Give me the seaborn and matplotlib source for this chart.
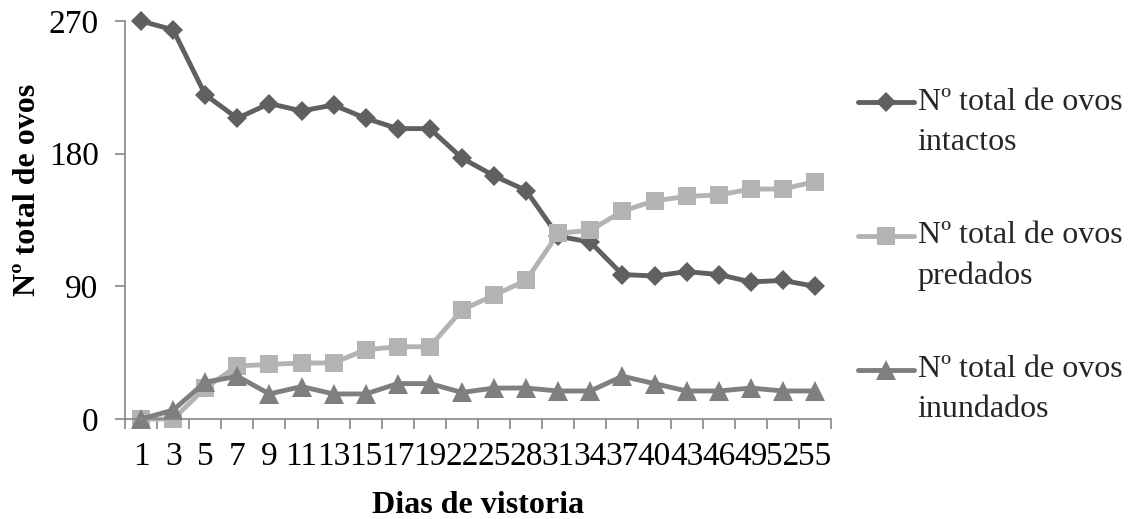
import matplotlib
matplotlib.use("Agg")
import matplotlib.pyplot as plt
import seaborn as sns
import pandas as pd
import numpy as np
from matplotlib.ticker import FixedLocator, NullFormatter

days = ["1", "3", "5", "7", "9", "11", "13", "15", "17", "19", "22", "25",
        "28", "31", "34", "37", "40", "43", "46", "49", "52", "55"]
intactos = [270, 264, 220, 204, 214, 209, 213, 204, 197, 197, 177, 165,
            155, 124, 120, 98, 97, 100, 98, 93, 94, 90]
predados = [0, 0, 21, 36, 37, 38, 38, 47, 49, 49, 74, 84,
            94, 126, 128, 141, 148, 151, 152, 156, 156, 161]
inundados = [0, 6, 25, 29, 17, 22, 17, 17, 24, 24, 18, 21,
             21, 19, 19, 29, 24, 19, 19, 21, 19, 19]
series_names = ["Nº total de ovos intactos", "Nº total de ovos predados",
                "Nº total de ovos inundados"]
legend_labels = [" \nNº total de ovos\nintactos",
                 " \nNº total de ovos\npredados",
                 " \nNº total de ovos\ninundados"]

sns.set_theme(style="white")
plt.rcParams["font.family"] = ["Liberation Serif", "DejaVu Serif"]

pos = np.arange(len(days))
df = pd.concat([
    pd.DataFrame({"pos": pos, "valor": vals, "serie": name})
    for name, vals in zip(series_names, [intactos, predados, inundados])
])

colors = ["#606060", "#b3b3b3", "#7f7f7f"]
palette = dict(zip(series_names, colors))
markers = dict(zip(series_names, ["D", "s", "^"]))
msizes = {series_names[0]: 10.5, series_names[1]: 13, series_names[2]: 14}

fig = plt.figure(figsize=(11.33, 5.19), dpi=100)
ax = fig.add_axes([125 / 1133, 100 / 519, 706 / 1133, 398 / 519])

sns.lineplot(data=df, x="pos", y="valor", hue="serie", style="serie",
             palette=palette, markers=markers, dashes=False, legend=False,
             linewidth=3.5, markeredgewidth=0, ax=ax)
for line, name in zip(ax.lines, series_names):
    line.set_markersize(msizes[name])
    line.set_clip_on(False)

ax.set_xlim(-0.5, len(days) - 0.5)
ax.set_ylim(0, 270)
ax.set_yticks([0, 90, 180, 270])
ax.set_xticks(pos)
ax.set_xticklabels(days)
ax.xaxis.set_minor_locator(FixedLocator(np.arange(-0.5, len(days), 1.0)))
ax.xaxis.set_minor_formatter(NullFormatter())

spine_c = "#868686"
for side in ["top", "right"]:
    ax.spines[side].set_visible(False)
for side in ["left", "bottom"]:
    ax.spines[side].set_color(spine_c)
    ax.spines[side].set_linewidth(1.2)

ax.tick_params(axis="y", which="major", direction="out", length=7, width=1.2,
               color=spine_c, labelsize=24, pad=12, left=True,
               labelcolor="black")
ax.tick_params(axis="x", which="major", length=0, labelsize=24, pad=16,
               labelcolor="black")
ax.tick_params(axis="x", which="minor", direction="out", length=7, width=1.2,
               color=spine_c, bottom=True)

ax.set_xlabel("Dias de vistoria", fontsize=23, fontweight="bold",
              labelpad=14, color="black")
ax.set_ylabel("Nº total de ovos", fontsize=23, fontweight="bold",
              color="black")
ax.yaxis.set_label_coords(-0.118, 0.575)
ax.grid(False)

leg = ax.legend(ax.lines[:3], legend_labels, loc="upper left",
                bbox_to_anchor=(858 / 1133, 1 - 48 / 519),
                bbox_transform=fig.transFigure, frameon=False,
                fontsize=23, handlelength=1.75, handletextpad=0.12,
                labelspacing=0.78, borderpad=0, borderaxespad=0)
for t in leg.get_texts():
    t.set_linespacing(1.49)

fig.savefig("out.png", dpi=100)
